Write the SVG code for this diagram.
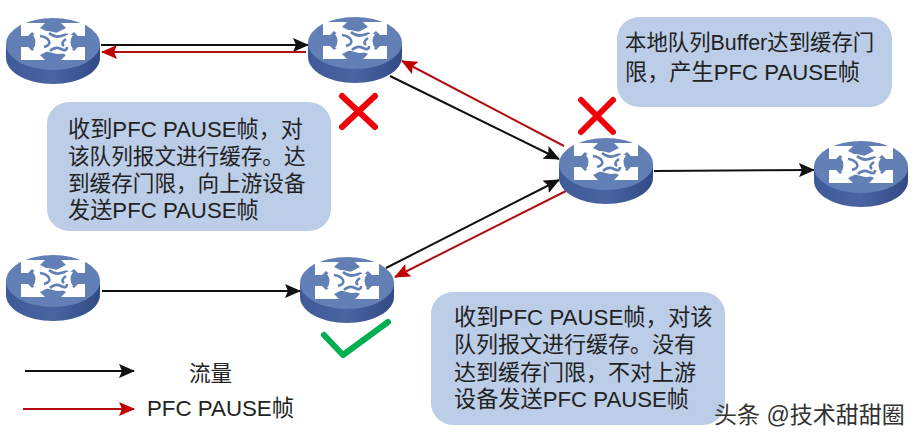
<svg xmlns="http://www.w3.org/2000/svg" xmlns:xlink="http://www.w3.org/1999/xlink" width="919" height="439" viewBox="0 0 919 439">
<style>
text{font-family:"Liberation Sans","Noto Sans CJK SC",sans-serif;font-size:21.6px;fill:#222}
.box{fill:#bccde8}
.blk{stroke:#111;stroke-width:2;fill:none;marker-end:url(#ab)}
.red{stroke:#b30d12;stroke-width:2;fill:none;marker-end:url(#ar)}
.x{stroke:#f00008;stroke-width:6;stroke-linecap:round;fill:none}
</style>
<defs>
<marker id="ab" markerUnits="userSpaceOnUse" markerWidth="16" markerHeight="14" refX="15" refY="7" orient="auto"><path d="M0 0L16 7L0 14L3 7Z" fill="#111"/></marker>
<marker id="ar" markerUnits="userSpaceOnUse" markerWidth="16" markerHeight="14" refX="15" refY="7" orient="auto"><path d="M0 0L16 7L0 14L3 7Z" fill="#c00000"/></marker>
<linearGradient id="side" x1="0" x2="1" y1="0" y2="0"><stop offset="0" stop-color="#3f5a98"/><stop offset="0.5" stop-color="#4a64a2"/><stop offset="1" stop-color="#324b86"/></linearGradient>
<g id="router">
<path d="M-47 0V14C-47 28-26 40 0 40S47 28 47 14V0Z" fill="url(#side)"/>
<ellipse cx="0" cy="0" rx="47" ry="26" fill="#6280b6"/>
<path fill="#fff" d="M-32-21H-8L-13-16-3-11-11-4-21-12-25-8-32-8ZM32-21H8L13-16 3-11 11-4 21-12 25-8 32-8ZM-32 16H-8L-13 11-3 6-11 0-21 7-25 3-32 3ZM32 16H8L13 11 3 6 11 0 21 7 25 3 32 3Z"/>
<path fill="#fff" d="M-20-9Q-10-15 0-12T20-9Q15-2 20 5Q10 12 0 9T-20 5Q-15-2-20-9Z"/>
<path fill="none" stroke="#6280b6" stroke-width="2.6" d="M-13-8Q-6-7-4-3T-9 3M-3 7Q2 2 8 5T14 3M-4-11Q2-6 8-8T14-9M13-5Q7-1 11 2"/>
</g>
</defs>
<g id="connectors">
<path class="blk" d="M101 45H308"/>
<path class="red" d="M306 52H102"/>
<path class="blk" d="M390 76L559 159"/>
<path class="red" d="M564 146L402 61"/>
<path class="blk" d="M386 268L559 180"/>
<path class="red" d="M566 191L395 277"/>
<path class="blk" d="M102 291H300"/>
<path class="blk" d="M654 171L814 170"/>
<path class="blk" d="M25 371H134"/>
<path class="red" d="M23 409H134"/>
</g>
<g id="r1"><use href="#router" x="53" y="44"/></g>
<g id="r2"><use href="#router" x="355" y="43"/></g>
<g id="r3"><use href="#router" x="606" y="164"/></g>
<g id="r4"><use href="#router" x="861" y="167"/></g>
<g id="r5"><use href="#router" x="53" y="281"/></g>
<g id="r6"><use href="#router" x="347" y="283"/></g>
<g id="mark-x1"><path class="x" d="M342 96L375 127M375 96L342 127"/></g>
<g id="mark-x2"><path class="x" d="M581 100L613 132M613 100L581 132"/></g>
<g id="mark-check"><path d="M324 335L343 355L388 322" fill="none" stroke="#00b050" stroke-width="6" stroke-linecap="round" stroke-linejoin="round"/></g>
<g id="note-a"><rect class="box" x="47" y="102" width="284" height="129" rx="22"/>
<text x="68" y="137" style="font-size:22.2px">收到PFC PAUSE帧，对</text><text x="68" y="164">该队列报文进行缓存。达</text><text x="68" y="191">到缓存门限，向上游设备</text><text x="68" y="218" style="font-size:22.2px">发送PFC PAUSE帧</text></g>
<g id="note-b"><rect class="box" x="617" y="17" width="275" height="90" rx="22"/>
<text x="625" y="50" style="font-size:21.4px">本地队列Buffer达到缓存门</text><text x="625" y="80" style="font-size:22.2px">限，产生PFC PAUSE帧</text></g>
<g id="note-c"><rect class="box" x="431" y="292" width="294" height="133" rx="22"/>
<text x="454" y="325" style="font-size:22.3px">收到PFC PAUSE帧，对该</text><text x="454" y="352" style="font-size:22px">队列报文进行缓存。没有</text><text x="454" y="380" style="font-size:22px">达到缓存门限，不对上游</text><text x="454" y="407" style="font-size:22.2px">设备发送PFC PAUSE帧</text></g>
<g id="legend"><text x="189" y="381">流量</text><text x="147" y="416" style="font-size:22.3px">PFC PAUSE帧</text></g>
<g id="watermark"><text x="714" y="423" style="font-size:23px;fill:#333">头条 @技术甜甜圈</text></g>
</svg>
